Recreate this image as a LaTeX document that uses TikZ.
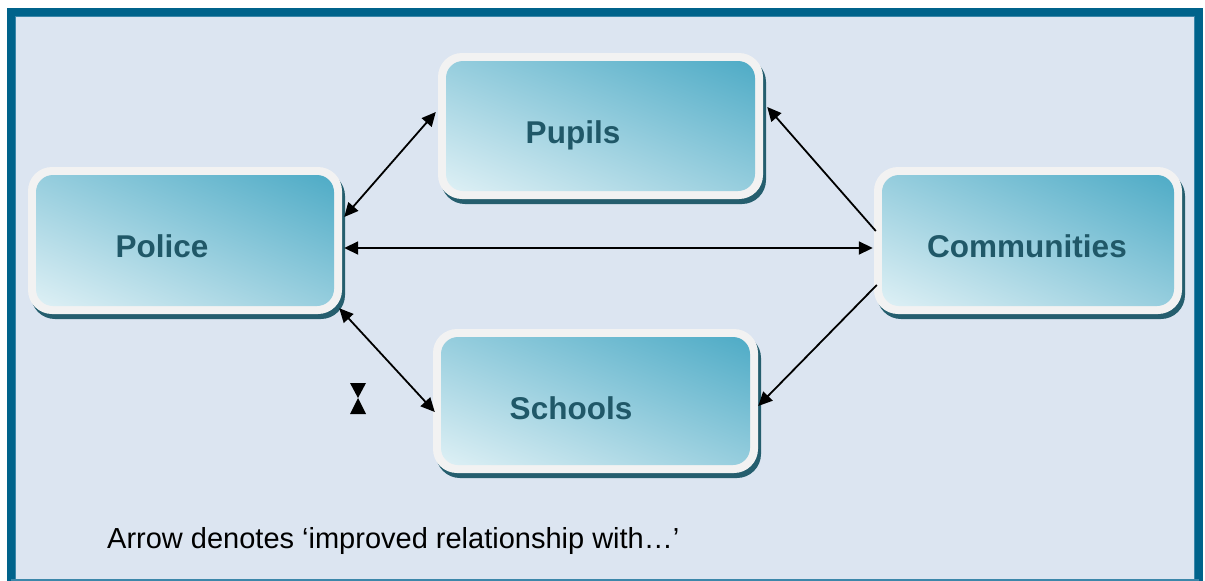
\documentclass[tikz,border=0pt]{standalone}
\usepackage{fontspec}
\setmainfont{Liberation Sans}
\usetikzlibrary{arrows.meta}
\definecolor{framec}{RGB}{0,99,139}
\definecolor{framein}{RGB}{60,135,170}
\definecolor{bgc}{RGB}{220,229,241}
\definecolor{shadowc}{RGB}{37,94,110}
\definecolor{rimc}{RGB}{242,242,242}
\definecolor{lightc}{RGB}{222,240,245}
\definecolor{darkc}{RGB}{78,171,198}
\definecolor{textc}{RGB}{32,88,104}
\tikzset{
  shadowbox/.style={fill=shadowc, rounded corners=24pt, inner sep=0pt, draw=none},
  rimbox/.style={fill=rimc, rounded corners=24pt, inner sep=0pt, draw=none},
  boxlabel/.style={anchor=base, text=textc, font=\bfseries\fontsize{31.5}{36}\selectfont, inner sep=0pt},
  arr/.style={line width=1.8pt, -{Triangle[length=14pt,width=13pt]}},
  biarr/.style={line width=1.8pt, {Triangle[length=14pt,width=13pt]}-{Triangle[length=14pt,width=13pt]}},
}
\newcommand\figbox[5]{% name, cx, cy, w, h
  \pgfmathsetmacro\gw{#4-16}%
  \pgfmathsetmacro\gh{#5-16}%
  \pgfmathsetmacro\gphi{atan2(\gw,\gh)-90}%
  \pgfmathsetmacro\gE{\gw/veclen(\gw,\gh)*\gh}%
  \node[shadowbox, minimum width=#4pt, minimum height=#5pt] at (#2+3,#3+5) {};
  \node[rimbox, minimum width=#4pt, minimum height=#5pt] (#1) at (#2,#3) {};
  \begin{scope}
    \clip[rounded corners=17pt] (#2-\gw/2,#3-\gh/2) rectangle (#2+\gw/2,#3+\gh/2);
    \begin{scope}[transform canvas={shift={(#2,#3)}, rotate=\gphi}]
      \shade[bottom color=lightc, top color=darkc] (-200,\gE) rectangle (200,-\gE);
    \end{scope}
  \end{scope}
}
\begin{document}
\begin{tikzpicture}[x=1pt,y=-1pt]
\useasboundingbox (0,0) rectangle (1205,581);
\fill[white] (0,0) rectangle (1205,581);
\begin{scope}
\clip (0,0) rectangle (1205,581);
\fill[bgc] (11,12) rectangle (1198.5,590);
\draw[framein, line width=1pt] (15.5,16.5) rectangle (1194,590);
\draw[framec, line width=8pt] (11,12) rectangle (1198.5,590);
\draw[framein, line width=1.5pt] (11,580.2) -- (1198.5,580.2);
\end{scope}

\figbox{police}{185}{240.5}{314}{147}
\figbox{pupils}{600.5}{126}{325}{146}
\figbox{communities}{1028}{240.5}{308}{147}
\figbox{schools}{595.5}{401}{325}{144}

\node[boxlabel] (policet) at (162,257) {Police};
\node[boxlabel] (pupilst) at (573,143) {Pupils};
\node[boxlabel] (communitiest) at (1027,257) {Communities};
\node[boxlabel] (schoolst) at (571,419) {Schools};

\draw[biarr] ([shift={(2,-23.5)}]police.east) -- ([shift={(-2,-14)}]pupils.west);
\draw[biarr] ([shift={(2,7.5)}]police.east) -- ([shift={(-1,7.5)}]communities.west);
\draw[biarr] ([shift={(-3,-6)}]police.south east) -- ([shift={(2,11)}]schools.west);
\draw[arr] ([shift={(2,-9.5)}]communities.west) -- ([shift={(4,-19)}]pupils.east);
\draw[arr] ([shift={(3,44.5)}]communities.west) -- ([shift={(0,5)}]schools.east);

\fill[black] (350,383) -- (366,383) -- (358,398) -- cycle;
\fill[black] (358,398) -- (350,414) -- (366,414) -- cycle;

\node[anchor=base west, inner sep=0pt, font=\fontsize{29}{33}\selectfont] (note) at (107,548) {Arrow denotes ‘improved relationship with…’};
\end{tikzpicture}
\end{document}
